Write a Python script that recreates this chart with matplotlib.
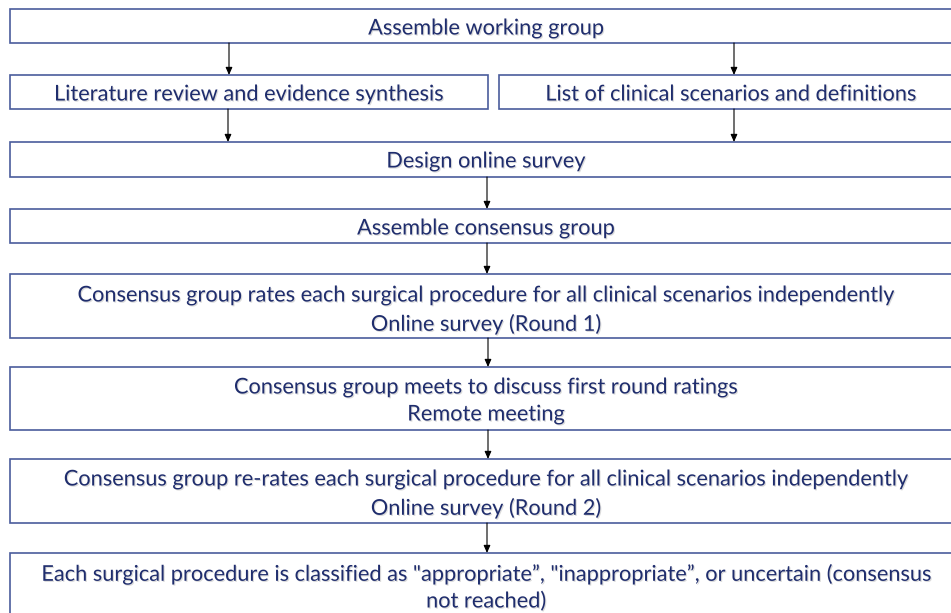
import matplotlib
matplotlib.use("Agg")
from matplotlib import pyplot as plt
from matplotlib.patches import Rectangle
import matplotlib.patheffects as pe

plt.rcParams['font.family'] = ['Lato', 'DejaVu Sans']

# flowchart content
labels = [
    ["Assemble working group"],
    ["Literature review and evidence synthesis"],
    ["List of clinical scenarios and definitions"],
    ["Design online survey"],
    ["Assemble consensus group"],
    ["Consensus group rates each surgical procedure for all clinical scenarios independently",
     "Online survey (Round 1)"],
    ["Consensus group meets to discuss first round ratings",
     "Remote meeting"],
    ["Consensus group re-rates each surgical procedure for all clinical scenarios independently",
     "Online survey (Round 2)"],
    ["Each surgical procedure is classified as \"appropriate\u201d, \"inappropriate\u201d, or uncertain (consensus",
     "not reached)"],
]
# arrows as (from box, to box, x position)
links = [(0, 1, 229), (0, 2, 734), (1, 3, 228), (2, 3, 734),
         (3, 4, 487), (4, 5, 487), (5, 6, 488), (6, 7, 488), (7, 8, 487)]

# layout in pixels: x0, x1, y0, y1, and y of each text line
boxes = [
    (10, 962, 9, 43, [27]),
    (10, 488, 75, 109, [93]),
    (499, 963, 75, 109, [93]),
    (10, 962, 142, 177, [160]),
    (10, 962, 209, 243, [227]),
    (10, 962, 274, 338, [294, 323]),
    (10, 962, 367, 430, [386, 413]),
    (10, 962, 459, 523, [478, 507]),
    (10, 962, 553, 625, [573, 600]),
]

text_col = '#1f2d6d'
edge_col = '#4a5c9c'

fig = plt.figure(figsize=(9.51, 6.13), dpi=100)
ax = fig.add_axes([0, 0, 1, 1])
ax.set_xlim(0, 951)
ax.set_ylim(613, 0)
ax.axis('off')

# pick font size so the longest line is about 848 px wide
probe = ax.text(0, 0, labels[7][0], fontsize=14)
fig.canvas.draw()
w = probe.get_window_extent().width
probe.remove()
fs = 14 * 848 / w

shadow = [pe.withSimplePatchShadow(offset=(0.8, -0.8), shadow_rgbFace='#999999', alpha=0.35)]

for (x0, x1, y0, y1, ys), lines in zip(boxes, labels):
    ax.add_patch(Rectangle((x0, y0), x1 - x0, y1 - y0, facecolor='white',
                           edgecolor=edge_col, lw=1.2, zorder=2))
    cx = (x0 + min(x1, 974)) / 2
    for y, s in zip(ys, lines):
        ax.text(cx, y + 1.5, s, ha='center', va='center', fontsize=fs, color=text_col,
                zorder=3, path_effects=shadow)

for a, b, x in links:
    ax.annotate('', xy=(x, boxes[b][2]), xytext=(x, boxes[a][3]),
                arrowprops=dict(arrowstyle='-|>,head_length=0.45,head_width=0.2',
                                color='black', lw=0.8, shrinkA=0, shrinkB=0), zorder=4)

fig.savefig('out.png', dpi=100)
